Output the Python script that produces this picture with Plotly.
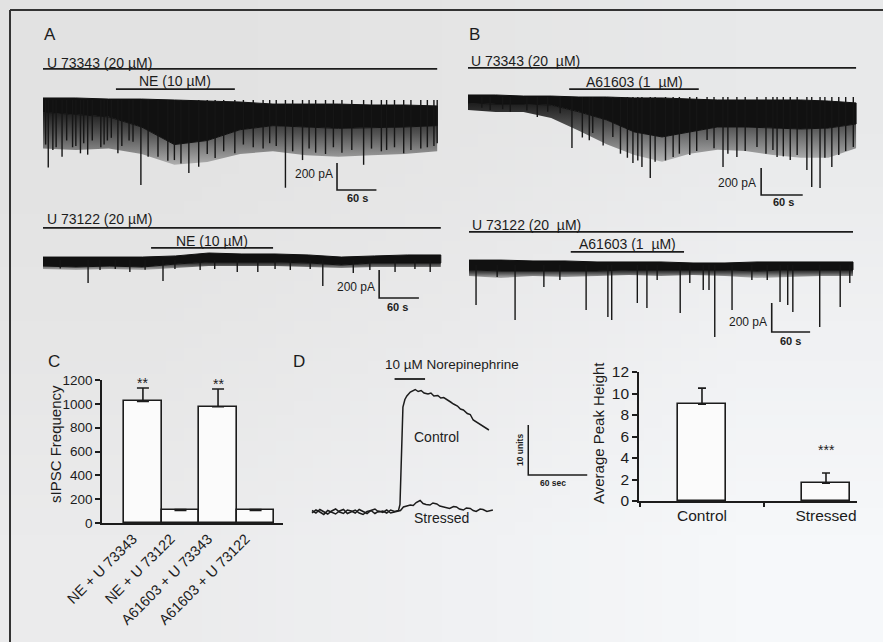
import base64
import struct
import zlib

import plotly.graph_objects as go

W, H = 883, 642
FONT = "Liberation Sans, Arial, Helvetica, sans-serif"
INK = "#1c1c1c"

# ---------------------------------------------------------------- data
# Panel A, upper recording (U 73343 + NE): sample times (s), band edges (pA)
a1_t = [0, 50, 100, 150, 200, 250, 300, 350, 400, 450, 500, 550, 600]
a1_top = [15, 15, 7, 7, 0, -7, -15, -30, -30, -30, -37, -37, -44]
a1_solid = [-90, -105, -125, -200, -330, -300, -220, -190, -200, -210, -205, -200, -190]
a1_dense = [-360, -370, -360, -400, -480, -460, -400, -380, -410, -420, -410, -400, -380]
a1_spk_t = [4, 8, 15, 20, 29, 36, 45, 50, 57, 62, 68, 75, 88, 93, 98, 104, 114, 120,
            131, 137, 149, 160, 175, 190, 200, 210, 222, 237, 250, 262, 275, 292, 305,
            320, 335, 345, 355, 369, 380, 395, 405, 415, 430, 442, 455, 470, 488, 500,
            515, 523, 535, 549, 560, 575, 585, 595, 600]
a1_spk_pA = [-330, -500, -370, -350, -420, -300, -350, -340, -395, -320, -405, -300,
             -350, -330, -300, -280, -395, -340, -300, -310, -630, -420, -420, -450,
             -445, -470, -540, -495, -400, -430, -380, -395, -330, -350, -360, -320,
             -340, -650, -380, -445, -360, -390, -400, -350, -390, -370, -480, -360,
             -380, -370, -350, -395, -370, -360, -350, -340, -320]
a1_base_on = [0, 600]
a1_drug_on = [111, 292]

# Panel A, lower recording (U 73122 + NE)
a2_t = [0, 50, 100, 150, 200, 250, 300, 350, 400, 450, 500, 550, 600]
a2_top = [21, 21, 21, 21, 29, 50, 43, 43, 36, 21, 29, 36, 36]
a2_solid = [-43, -50, -43, -50, -29, -14, -14, -14, -21, -36, -21, -21, -21]
a2_dense = [-64, -71, -64, -71, -57, -43, -43, -43, -50, -57, -50, -50, -50]
a2_spk_t = [26, 68, 86, 109, 131, 154, 181, 199, 237, 259, 293, 324, 350, 373, 403,
            422, 468, 493, 531, 561, 584]
a2_spk_pA = [-60, -164, -71, -64, -86, -70, -150, -64, -71, -64, -86, -86, -64, -71,
             -64, -186, -93, -71, -86, -64, -86]
a2_base_on = [0, 600]
a2_drug_on = [163, 347]

# Panel B, upper recording (U 73343 + A61603)
b1_t = [0, 40, 80, 120, 160, 200, 240, 280, 320, 360, 400, 440, 480, 520, 560]
b1_top = [15, 15, 7, 7, 0, 0, -7, -7, -15, -22, -22, -22, -22, -30, -44]
b1_solid = [-44, -52, -52, -59, -110, -170, -259, -296, -259, -222, -222, -230, -237, -230, -200]
b1_dense = [-96, -111, -111, -156, -250, -350, -430, -480, -420, -390, -400, -430, -450, -450, -380]
b1_spk_t = [20, 32, 50, 61, 85, 100, 115, 133, 150, 165, 175, 180, 195, 209, 220, 230,
            238, 245, 251, 263, 270, 285, 296, 305, 320, 330, 345, 355, 368, 375, 388,
            400, 417, 430, 440, 446, 455, 465, 475, 489, 496, 508, 515, 525, 535, 545, 556]
b1_spk_pA = [-80, -96, -90, -110, -100, -148, -110, -120, -378, -300, -320, -267, -360,
             -296, -420, -450, -489, -470, -519, -600, -480, -470, -445, -420, -430, -400,
             -319, -380, -519, -420, -445, -400, -370, -420, -393, -445, -440, -467, -430,
             -541, -667, -674, -450, -519, -430, -400, -370]
b1_base_on = [0, 560]
b1_drug_on = [146, 333]

# Panel B, lower recording (U 73122 + A61603)
b2_t = [0, 50, 100, 150, 200, 250, 300, 350, 400, 450, 500, 550, 600]
b2_top = [34, 34, 28, 28, 21, 21, 21, 14, 14, 21, 21, 21, 21]
b2_solid = [-34, -41, -41, -41, -41, -34, -34, -34, -34, -41, -34, -34, -34]
b2_dense = [-76, -90, -76, -83, -76, -69, -76, -69, -76, -90, -83, -76, -76]
b2_spk_t = [11, 44, 72, 117, 142, 183, 217, 223, 263, 278, 294, 330, 345, 366, 375,
            384, 411, 442, 466, 486, 498, 506, 548, 580, 595]
b2_spk_pA = [-276, -83, -380, -152, -104, -311, -359, -380, -262, -297, -104, -331,
             -124, -173, -173, -497, -311, -104, -104, -255, -276, -324, -428, -290, -124]
b2_base_on = [0, 600]
b2_drug_on = [159, 336]

# Panel C: sIPSC frequency
c_labels = ["NE + U 73343", "NE + U 73122", "A61603 + U 73343", "A61603 + U 73122"]
c_vals = [1020, 105, 975, 105]
c_err = [113, 8, 150, 8]
c_sig = ["**", "", "**", ""]

# Panel D: norepinephrine response traces (s, units)
d_ctrl_t = [0, 4, 8, 12, 16, 20, 24, 28, 32, 36, 40, 44, 48, 52, 56, 60, 64, 68, 72,
            76, 80, 84, 88, 89.5, 91, 92.5, 94.5, 96.5, 100, 103, 105, 108, 111, 114,
            118, 121, 124, 128, 131, 134, 138, 141, 144, 148, 151, 154, 158, 161, 164,
            168, 171, 174, 177, 180]
d_ctrl_u = [0.3, -0.2, 0.5, 0.1, -0.4, 0.2, 0.6, 0.0, -0.3, 0.4, 0.2, -0.2, 0.5, 0.1,
            -0.3, 0.3, 0.6, 0.0, 0.2, -0.2, 0.4, 0.1, 0.3,
            1.5, 14, 21, 22.5, 23.2, 24.0, 24.3, 24.5, 24.1, 24.3, 23.8, 23.6, 23.8,
            23.2, 23.3, 22.8, 22.9, 22.3, 22.0, 21.6, 21.2, 20.6, 20.4, 19.7, 19.5,
            18.4, 17.9, 17.5, 17.2, 16.9, 16.4]
d_str_t = [0, 4, 8, 12, 16, 20, 24, 28, 32, 36, 40, 44, 48, 52, 56, 60, 64, 68, 72,
           76, 80, 84, 88, 90, 93, 96, 100, 103, 106, 110, 113, 116, 120, 123, 127, 130,
           134, 137, 140, 144, 147, 150, 154, 157, 161, 164, 167, 171, 174, 178, 181, 184]
d_str_u = [-0.2, 0.4, 0.0, -0.5, 0.3, -0.1, -0.4, 0.2, 0.5, -0.3, 0.0, 0.4, -0.2, -0.5,
           0.1, 0.3, -0.3, 0.2, -0.1, 0.4, -0.2, 0.0, 0.2,
           0.3, 1.0, 1.2, 1.4, 1.3, 1.9, 2.3, 1.7, 1.5, 1.4, 1.8, 1.6, 1.2, 1.0, 0.8,
           0.7, 1.1, 1.0, 0.6, 0.4, 0.8, 0.7, 0.3, 0.1, 0.6, 0.5, 0.1, 0.2, 0.4]
d_ne_on = [84, 115]

# Panel D: average peak height
d_labels = ["Control", "Stressed"]
d_vals = [9.0, 1.65]
d_err = [1.5, 0.95]
d_sig = ["", "***"]


# ---------------------------------------------------------------- helpers
def png_uri(rows):
    h, w = len(rows), len(rows[0])
    raw = b"".join(b"\x00" + bytes(c for px in row for c in px) for row in rows)

    def chunk(tag, data):
        body = tag + data
        return struct.pack(">I", len(data)) + body + struct.pack(">I", zlib.crc32(body) & 0xFFFFFFFF)

    png = (b"\x89PNG\r\n\x1a\n"
           + chunk(b"IHDR", struct.pack(">IIBBBBB", w, h, 8, 2, 0, 0, 0))
           + chunk(b"IDAT", zlib.compress(raw))
           + chunk(b"IEND", b""))
    return "data:image/png;base64," + base64.b64encode(png).decode()


def hidden_axes(x0, kx, y0, ky, left, right, top, bottom):
    """Axes whose data origin sits at pixel (x0, y0) with kx px/s and ky px/unit."""
    xa = dict(domain=[left / W, right / W], range=[(left - x0) / kx, (right - x0) / kx],
              visible=False, fixedrange=True)
    ya = dict(domain=[1 - bottom / H, 1 - top / H], range=[(y0 - bottom) / ky, (y0 - top) / ky],
              visible=False, fixedrange=True)
    return xa, ya


fig = go.Figure()
annotations = []
layout_axes = {}


def note(text, x, y, ref, size=13.5, xanchor="center", angle=0, bold=False):
    annotations.append(dict(
        text=f"<b>{text}</b>" if bold else text, x=x, y=y,
        xref=f"x{ref}", yref=f"y{ref}", xanchor=xanchor, yanchor="middle",
        showarrow=False, textangle=angle,
        font=dict(family=FONT, size=size, color=INK)))


def seg(x, y, ref, width=1.6):
    fig.add_trace(go.Scatter(x=x, y=y, mode="lines", xaxis=f"x{ref}", yaxis=f"y{ref}",
                             line=dict(color=INK, width=width), hoverinfo="skip"))


def recording(ref, t, top, solid, dense, spk_t, spk_v):
    # striated region of overlapping events, thinning out with depth
    fig.add_trace(go.Scatter(x=t + t[::-1], y=solid + dense[::-1], fill="toself",
                             mode="lines", line=dict(width=0),
                             fillgradient=dict(type="vertical", colorscale=[
                                 [0, "rgba(18,18,18,0.25)"], [0.6, "rgba(18,18,18,0.7)"],
                                 [1, "rgba(18,18,18,0.95)"]]),
                             xaxis=f"x{ref}", yaxis=f"y{ref}", hoverinfo="skip"))
    # solid baseline noise band
    fig.add_trace(go.Scatter(x=t + t[::-1], y=top + solid[::-1], fill="toself",
                             mode="lines", line=dict(width=1, color="#111"),
                             fillcolor="#111", xaxis=f"x{ref}", yaxis=f"y{ref}",
                             hoverinfo="skip"))
    xs, ys = [], []
    for tt, vv in zip(spk_t, spk_v):
        xs += [tt, tt, None]
        ys += [0, vv, None]
    fig.add_trace(go.Scatter(x=xs, y=ys, mode="lines", line=dict(color="#161616", width=1.4),
                             xaxis=f"x{ref}", yaxis=f"y{ref}", hoverinfo="skip"))


def scale_bar(ref, t0, v0, dt, dv, v_label, t_label, vl_pos, tl_pos, size=12):
    seg([t0, t0, t0 + dt], [v0 + dv, v0, v0], ref)
    note(v_label, vl_pos[0], vl_pos[1], ref, size=size, xanchor="right")
    note(t_label, tl_pos[0], tl_pos[1], ref, size=size - 1, bold=True)


# ---------------------------------------------------------------- panel A / B recordings
recs = [
    dict(ref=3, geo=(43, 0.657, 100, 0.135, 38, 445, 48, 210),
         data=(a1_t, a1_top, a1_solid, a1_dense, a1_spk_t, a1_spk_pA),
         base=a1_base_on, drug=a1_drug_on, base_y=230, drug_y=81,
         base_txt=("U 73343 (20 µM)", 3, 274), drug_txt=("NE (10 µM)", 201, 141),
         bar=(447.5, -667, 60, 200), vl=(444, -548), tl=(478, -726)),
    dict(ref=4, geo=(43, 0.663, 260, 0.14, 38, 445, 205, 320),
         data=(a2_t, a2_top, a2_solid, a2_dense, a2_spk_t, a2_spk_pA),
         base=a2_base_on, drug=a2_drug_on, base_y=229, drug_y=86,
         base_txt=("U 73122 (20 µM)", 3, 293), drug_txt=("NE (10 µM)", 255, 136),
         bar=(507, -271, 60, 200), vl=(504, -196), tl=(535, -336)),
    dict(ref=5, geo=(468, 0.693, 97, 0.135, 462, 875, 48, 215),
         data=(b1_t, b1_top, b1_solid, b1_dense, b1_spk_t, b1_spk_pA),
         base=b1_base_on, drug=b1_drug_on, base_y=215, drug_y=59,
         base_txt=("U 73343 (20  µM)", 1, 267), drug_txt=("A61603 (1  µM)", 240, 111),
         bar=(423, -726, 60, 200), vl=(418, -637), tl=(455, -778)),
    dict(ref=6, geo=(469, 0.64, 265, 0.145, 462, 875, 212, 352),
         data=(b2_t, b2_top, b2_solid, b2_dense, b2_spk_t, b2_spk_pA),
         base=b2_base_on, drug=b2_drug_on, base_y=228, drug_y=90,
         base_txt=("U 73122 (20  µM)", 1, 276), drug_txt=("A61603 (1  µM)", 248, 145),
         bar=(473, -462, 60, 200), vl=(469, -393), tl=(503, -524)),
]

for r in recs:
    ref = r["ref"]
    xa, ya = hidden_axes(*r["geo"])
    xa["anchor"], ya["anchor"] = f"y{ref}", f"x{ref}"
    layout_axes[f"xaxis{ref}"] = xa
    layout_axes[f"yaxis{ref}"] = ya
    recording(ref, *r["data"])
    seg(r["base"], [r["base_y"]] * 2, ref, width=1.7)
    seg(r["drug"], [r["drug_y"]] * 2, ref, width=1.7)
    txt, tx, ty = r["base_txt"]
    note(txt, tx, ty, ref, size=14, xanchor="left")
    txt, tx, ty = r["drug_txt"]
    note(txt, tx, ty, ref, size=14)
    t0, v0, dt, dv = r["bar"]
    scale_bar(ref, t0, v0, dt, dv, "200 pA", "60 s", r["vl"], r["tl"])

# ---------------------------------------------------------------- panel D traces
xa, ya = hidden_axes(312, 0.983, 512, 5.0, 295, 600, 345, 530)
xa["anchor"], ya["anchor"] = "y7", "x7"
layout_axes["xaxis7"] = xa
layout_axes["yaxis7"] = ya
fig.add_trace(go.Scatter(x=d_str_t, y=d_str_u, mode="lines", xaxis="x7", yaxis="y7",
                         line=dict(color=INK, width=1.5), hoverinfo="skip"))
fig.add_trace(go.Scatter(x=d_ctrl_t, y=d_ctrl_u, mode="lines", xaxis="x7", yaxis="y7",
                         line=dict(color=INK, width=1.5), hoverinfo="skip"))
seg(d_ne_on, [26.6, 26.6], 7, width=1.8)
note("10 µM Norepinephrine", 72, 29.6, 7, size=13.5, xanchor="left")
note("Control", 127, 15, 7, size=14)
note("Stressed", 132, -1.2, 7, size=14)
seg([220, 220, 280], [17.4, 7.4, 7.4], 7, width=1.5)
note("10 units", 211.6, 12.4, 7, size=8.5, angle=-90, bold=True)
note("60 sec", 245, 5.8, 7, size=8.5, bold=True)

# ---------------------------------------------------------------- panel C bars
fig.add_trace(go.Bar(
    x=[0, 1, 2, 3], y=c_vals, width=1.0, xaxis="x", yaxis="y",
    marker=dict(color="#fbfbfb", line=dict(color=INK, width=1.6)),
    error_y=dict(type="data", array=c_err, arrayminus=[0] * len(c_err), symmetric=False,
                 color=INK, thickness=1.6, width=6),
    hoverinfo="skip"))
for i, (v, e, s) in enumerate(zip(c_vals, c_err, c_sig)):
    if s:
        annotations.append(dict(text=s, x=i, y=v + e + 40, xref="x", yref="y",
                                yanchor="middle", showarrow=False,
                                font=dict(family=FONT, size=14, color=INK)))

# ---------------------------------------------------------------- panel D bars
fig.add_trace(go.Bar(
    x=d_labels, y=d_vals, width=0.39, xaxis="x2", yaxis="y2",
    marker=dict(color="#fbfbfb", line=dict(color=INK, width=1.6)),
    error_y=dict(type="data", array=d_err, arrayminus=[0] * len(d_err), symmetric=False,
                 color=INK, thickness=1.6, width=4),
    hoverinfo="skip"))
for lab, v, e, s in zip(d_labels, d_vals, d_err, d_sig):
    if s:
        annotations.append(dict(text=s, x=lab, y=v + e + 2.1, xref="x2", yref="y2",
                                yanchor="middle", showarrow=False,
                                font=dict(family=FONT, size=14, color=INK)))

axis_common = dict(showline=True, linecolor=INK, linewidth=1.6, showgrid=False,
                   zeroline=False, automargin=False, fixedrange=True)

layout_axes["xaxis"] = dict(axis_common, domain=[102 / W, 283 / W], range=[-1.09, 3.73],
                            tickvals=[0, 1, 2, 3], ticktext=c_labels, tickangle=-45,
                            ticks="", ticklabelshift=-10,
                            tickfont=dict(family=FONT, size=14.5, color=INK),
                            anchor="y")
layout_axes["yaxis"] = dict(axis_common, domain=[1 - 523 / H, 1 - 380 / H], range=[0, 1200],
                            dtick=200, ticks="outside", ticklen=5, tickwidth=1.5,
                            tickcolor=INK, tickfont=dict(family=FONT, size=13.5, color=INK),
                            anchor="x")
layout_axes["xaxis2"] = dict(axis_common, domain=[639 / W, 857 / W], range=[-0.508, 1.25],
                             type="category", tickson="boundaries", ticks="outside",
                             ticklen=4, tickwidth=1.5, tickcolor=INK,
                             tickfont=dict(family=FONT, size=15.5, color=INK), anchor="y2")
layout_axes["yaxis2"] = dict(axis_common, domain=[1 - 501 / H, 1 - 372 / H], range=[0, 12],
                             dtick=2, ticks="outside", ticklen=5, tickwidth=1.5,
                             tickcolor=INK, tickfont=dict(family=FONT, size=15.5, color=INK),
                             anchor="x2")

# axis titles and panel letters in page coordinates
for text, px, py, size, angle in [
    ("sIPSC Frequency", 55, 444, 15, -90),
    ("Average Peak Height", 598, 433, 15, -90),
    ("A", 50, 35, 17, 0), ("B", 475, 35, 17, 0),
    ("C", 54, 361, 17, 0), ("D", 299, 362, 17, 0),
]:
    annotations.append(dict(text=text, x=px / W, y=1 - py / H, xref="paper", yref="paper",
                            xanchor="center", yanchor="middle", showarrow=False,
                            textangle=angle, font=dict(family=FONT, size=size, color=INK)))

bg = [
    [(226, 226, 226), (229, 229, 229), (232, 233, 234)],
    [(230, 230, 230), (234, 234, 235), (240, 241, 243)],
    [(235, 235, 236), (240, 241, 243), (246, 248, 250)],
]

fig.update_layout(
    width=W, height=H, margin=dict(l=0, r=0, t=0, b=0),
    paper_bgcolor="#e9e9e9", plot_bgcolor="rgba(0,0,0,0)",
    showlegend=False, barmode="overlay", bargap=0,
    font=dict(family=FONT, color=INK),
    annotations=annotations,
    images=[dict(source=png_uri(bg), xref="paper", yref="paper", x=0, y=1,
                 sizex=1, sizey=1, sizing="stretch", xanchor="left", yanchor="top",
                 layer="below")],
    shapes=[
        dict(type="line", xref="paper", yref="paper", x0=10 / W, x1=1.01,
             y0=1 - 10 / H, y1=1 - 10 / H, line=dict(color="#333", width=2)),
        dict(type="line", xref="paper", yref="paper", x0=10 / W, x1=10 / W,
             y0=1 - 10 / H, y1=-0.01, line=dict(color="#333", width=2)),
    ],
    **layout_axes,
)

fig.write_html("out.html")
